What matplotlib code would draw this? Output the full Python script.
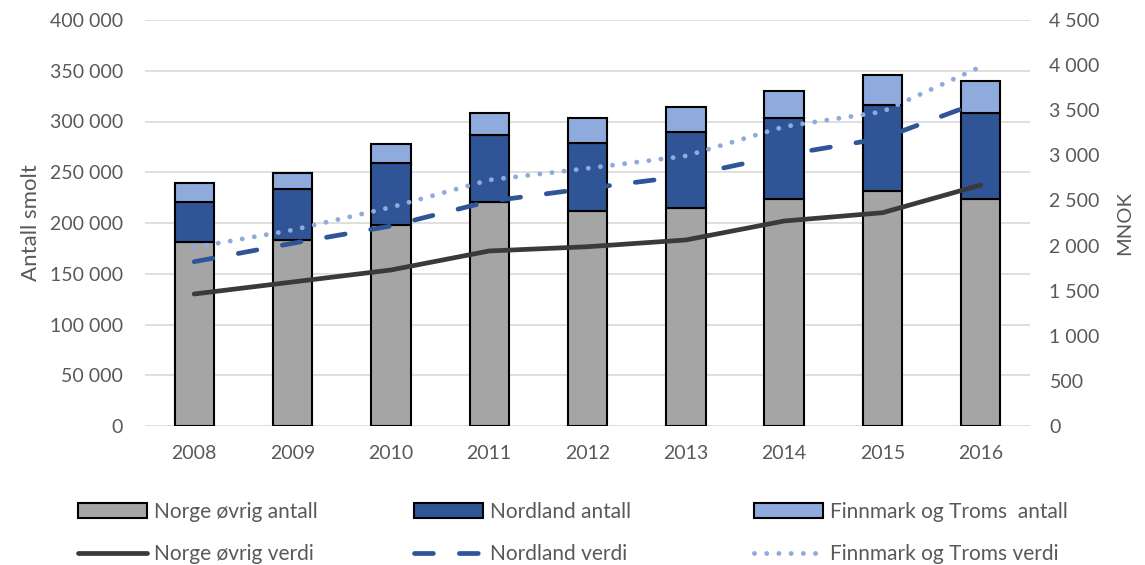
import matplotlib
matplotlib.use("Agg")
import matplotlib.pyplot as plt
from matplotlib.patches import Patch
from matplotlib.lines import Line2D
from matplotlib.ticker import FuncFormatter, MultipleLocator

plt.rcParams['font.family'] = ['Lato', 'DejaVu Sans']

years = ['2008', '2009', '2010', '2011', '2012', '2013', '2014', '2015', '2016']

# antall smolt (bars, left axis)
norge_antall = [181600, 183300, 198000, 221000, 212000, 215000, 223300, 231500, 223300]
nordland_antall = [38800, 50500, 61000, 66000, 66500, 75000, 80000, 84800, 84700]
finnmark_antall = [18700, 15800, 19000, 21000, 24500, 24300, 27000, 29500, 32200]

# verdi MNOK (lines, right axis)
norge_verdi = [1463, 1596, 1729, 1940, 1987, 2062, 2272, 2364, 2671]
nordland_verdi = [1821, 2025, 2217, 2490, 2634, 2771, 3004, 3189, 3595]
finnmark_verdi = [1980, 2172, 2424, 2727, 2856, 2993, 3318, 3484, 3983]

c_gray = '#A5A5A5'
c_dark = '#2F5597'
c_light = '#8FAADC'
c_line = '#3A3A3A'
txt = '#595959'

fig = plt.figure(figsize=(11.45, 5.65), dpi=100)
ax = fig.add_axes([145/1145, 1-426/565, 885/1145, 406/565])
x = list(range(len(years)))

bot2 = norge_antall
bot3 = [a + b for a, b in zip(norge_antall, nordland_antall)]
w = 0.4
ax.bar(x, norge_antall, w, color=c_gray, edgecolor='black', linewidth=1.5, zorder=2)
ax.bar(x, nordland_antall, w, bottom=bot2, color=c_dark, edgecolor='black', linewidth=1.5, zorder=2)
ax.bar(x, finnmark_antall, w, bottom=bot3, color=c_light, edgecolor='black', linewidth=1.5, zorder=2)

ax.set_ylim(0, 400000)
ax.set_xlim(-0.5, len(years) - 0.5)
ax.yaxis.set_major_locator(MultipleLocator(50000))
fmt = FuncFormatter(lambda v, p: f"{int(v):,}".replace(',', ' '))
ax.yaxis.set_major_formatter(fmt)
ax.grid(axis='y', color='#D9D9D9', linewidth=1.2, zorder=0)
ax.set_axisbelow(True)
ax.set_xticks(x)
ax.set_xticklabels(years)
for s in ax.spines.values():
    s.set_visible(False)
ax.tick_params(length=0, labelsize=14, colors=txt, pad=16)
ax.tick_params(axis='x', pad=14)
ax.set_ylabel('Antall smolt', fontsize=16, color=txt, labelpad=6)

ax2 = ax.twinx()
ax2.set_ylim(0, 4500)
ax2.yaxis.set_major_locator(MultipleLocator(500))
ax2.yaxis.set_major_formatter(fmt)
for s in ax2.spines.values():
    s.set_visible(False)
ax2.tick_params(length=0, labelsize=14, colors=txt, pad=14)
ax2.set_ylabel('MNOK', fontsize=14.5, color=txt, labelpad=12)

ax2.plot(x, norge_verdi, color=c_line, linewidth=3.4, solid_capstyle='round')
l2, = ax2.plot(x, nordland_verdi, color=c_dark, linewidth=3.4, dash_capstyle='round')
l2.set_dashes((4, 5.5))
l3, = ax2.plot(x, finnmark_verdi, color=c_light, linewidth=3.5, dash_capstyle='round')
l3.set_dashes((0.01, 2.5))

h_norge = Patch(facecolor=c_gray, edgecolor='black', linewidth=1.5)
h_nord = Patch(facecolor=c_dark, edgecolor='black', linewidth=1.5)
h_fin = Patch(facecolor=c_light, edgecolor='black', linewidth=1.5)
hl_norge = Line2D([], [], color=c_line, linewidth=3.4, solid_capstyle='round')
hl_nord = Line2D([], [], color=c_dark, linewidth=3.4, dash_capstyle='round', dashes=(4, 5.5))
hl_fin = Line2D([], [], color=c_light, linewidth=3.5, dash_capstyle='round', dashes=(0.01, 2.5))

cols = [
    (78, [h_norge, hl_norge], ['Norge øvrig antall', 'Norge øvrig verdi']),
    (414, [h_nord, hl_nord], ['Nordland antall', 'Nordland verdi']),
    (754, [h_fin, hl_fin], ['Finnmark og Troms  antall', 'Finnmark og Troms verdi']),
]
for xpos, hs, ls in cols:
    fig.legend(hs, ls, loc='upper left', bbox_to_anchor=(xpos/1145, 1-502/565),
               frameon=False, fontsize=15, handlelength=3.3, handleheight=0.7,
               handletextpad=0.35, labelspacing=1.05, borderaxespad=0, borderpad=0,
               labelcolor=txt)

fig.savefig('out.png', dpi=100)
